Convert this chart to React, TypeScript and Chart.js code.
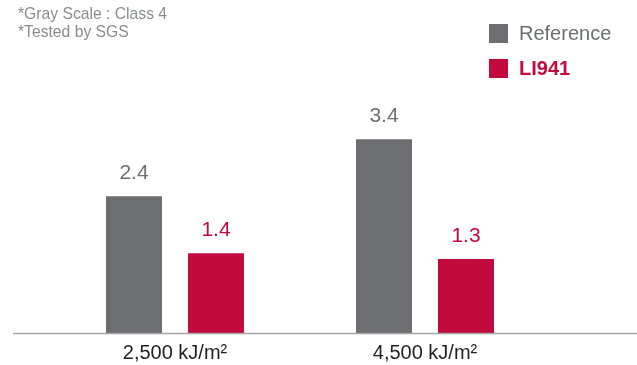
import React, { useEffect, useRef } from "react";
import { Chart, registerables } from "chart.js";

Chart.register(...registerables);

const categories = ["2,500 kJ/m²", "4,500 kJ/m²"];
const seriesNames = ["Reference", "LI941"];
const referenceValues = [2.4, 3.4];
const li941Values = [1.4, 1.3];
const notes = ["*Gray Scale : Class 4", "*Tested by SGS"];

const GRAY = "#6d6e71";
const RED = "#c30a3d";
const FONT = "'Liberation Sans', Arial, Helvetica, sans-serif";

const overlayPlugin = {
  id: "overlay",
  afterDatasetsDraw(chart: any) {
    const ctx = chart.ctx as CanvasRenderingContext2D;
    const yScale = chart.scales.y;
    const y0 = yScale.getPixelForValue(0);
    ctx.save();
    // baseline
    ctx.strokeStyle = "#a3a3a3";
    ctx.lineWidth = 1.5;
    ctx.beginPath();
    ctx.moveTo(13, y0 + 0.5);
    ctx.lineTo(chart.width, y0 + 0.5);
    ctx.stroke();

    // value labels
    ctx.font = `21px ${FONT}`;
    ctx.textAlign = "center";
    ctx.textBaseline = "middle";
    chart.data.datasets.forEach((ds: any, di: number) => {
      const meta = chart.getDatasetMeta(di);
      meta.data.forEach((el: any, i: number) => {
        ctx.fillStyle = ds.backgroundColor;
        ctx.fillText(String(ds.data[i].toFixed(1)), el.x, el.y - 23);
      });
    });

    // notes
    ctx.font = `15.7px ${FONT}`;
    ctx.fillStyle = "#8b8c8e";
    ctx.textAlign = "left";
    notes.forEach((n, i) => ctx.fillText(n, 18, 15 + i * 18));

    // legend
    const legendColors = [GRAY, RED];
    seriesNames.forEach((name, i) => {
      const top = 24 + i * 35;
      ctx.fillStyle = legendColors[i];
      ctx.fillRect(489, top, 19, 19);
      ctx.font = i === 1 ? `bold 20px ${FONT}` : `20px ${FONT}`;
      ctx.fillStyle = legendColors[i];
      ctx.fillText(name, 519, top + 10);
    });
    ctx.restore();
  },
};

export default function App() {
  const canvasRef = useRef<HTMLCanvasElement | null>(null);

  useEffect(() => {
    if (!canvasRef.current) return;
    const chart = new Chart(canvasRef.current, {
      type: "bar",
      data: {
        labels: categories,
        datasets: [
          {
            label: seriesNames[0],
            data: referenceValues,
            backgroundColor: GRAY,
            categoryPercentage: 0.656,
            barPercentage: 0.683,
          },
          {
            label: seriesNames[1],
            data: li941Values,
            backgroundColor: RED,
            categoryPercentage: 0.656,
            barPercentage: 0.683,
          },
        ],
      },
      options: {
        animation: false,
        responsive: false,
        maintainAspectRatio: false,
        layout: { padding: { left: 50, right: 87, top: 48, bottom: -8 } },
        plugins: {
          legend: { display: false },
          tooltip: { enabled: false },
        },
        scales: {
          x: {
            grid: { display: false, drawTicks: false },
            border: { display: false },
            ticks: {
              color: "#231f20",
              font: { family: FONT, size: 20 },
              padding: 8,
            },
          },
          y: {
            display: false,
            min: 0,
            max: 5,
          },
        },
      },
      plugins: [overlayPlugin],
    });
    return () => chart.destroy();
  }, []);

  return (
    <div style={{ position: "fixed", left: 0, top: 0, width: 637, height: 365, background: "#fff" }}>
      <canvas ref={canvasRef} width={637} height={365} style={{ width: 637, height: 365, display: "block" }} />
    </div>
  );
}
